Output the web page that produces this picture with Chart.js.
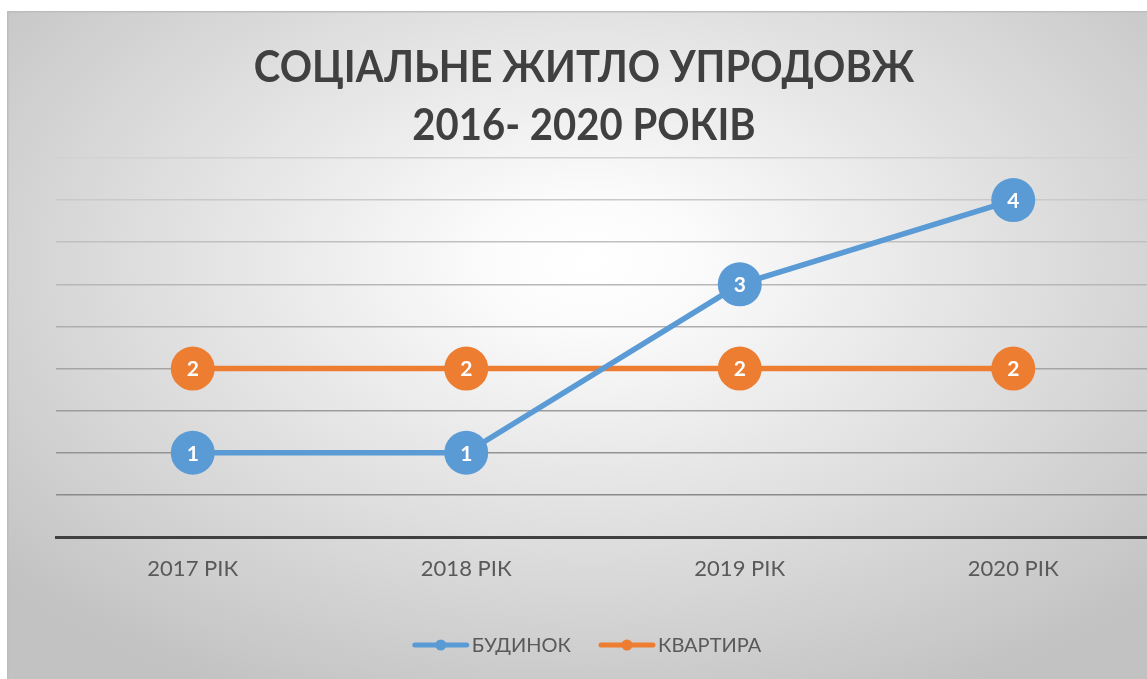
<!DOCTYPE html>
<html>
<head>
<meta charset="utf-8">
<script src="https://cdn.jsdelivr.net/npm/chart.js@4.4.0/dist/chart.umd.min.js"></script>
<style>
  html, body { margin: 0; padding: 0; background: #ffffff; overflow: hidden; width: 1147px; height: 679px; }
  #wrap { position: absolute; left: 7px; top: 11px; width: 1165px; height: 668px; }
  canvas { display: block; }
</style>
</head>
<body>
<div id="wrap"><canvas id="c" width="1165" height="668"></canvas></div>
<script>
const categories = ['2017 РІК', '2018 РІК', '2019 РІК', '2020 РІК'];
const housesValues = [1, 1, 3, 4];
const apartmentsValues = [2, 2, 2, 2];
const seriesNames = ['БУДИНОК', 'КВАРТИРА'];
const titleLines = ['СОЦІАЛЬНЕ ЖИТЛО УПРОДОВЖ', '2016- 2020 РОКІВ'];
const yMin = 0, yMax = 4.5, yStep = 0.5;

const BLUE = '#5B9BD5';
const ORANGE = '#ED7D31';
const FONT = 'Lato, "Open Sans", sans-serif';

const backgroundPlugin = {
  id: 'bg',
  beforeDraw(chart) {
    const ctx = chart.ctx, w = chart.width, h = chart.height;
    ctx.save();
    ctx.translate(583, 250);
    ctx.scale(1, 0.62);
    const g = ctx.createRadialGradient(0, 0, 0, 0, 0, 780);
    g.addColorStop(0, '#ffffff');
    g.addColorStop(0.12, '#fcfcfc');
    g.addColorStop(1, '#c2c2c2');
    ctx.fillStyle = g;
    ctx.fillRect(-700, -700, 1500, 1800);
    ctx.restore();
    ctx.save();
    ctx.strokeStyle = '#bdbdbd';
    ctx.lineWidth = 1.5;
    ctx.beginPath();
    ctx.moveTo(0.75, h);
    ctx.lineTo(0.75, 0.75);
    ctx.lineTo(w, 0.75);
    ctx.stroke();
    ctx.restore();
  }
};

const textPlugin = {
  id: 'texts',
  afterDatasetsDraw(chart) {
    const ctx = chart.ctx;
    ctx.save();
    ctx.textAlign = 'center';
    ctx.textBaseline = 'middle';
    ctx.fillStyle = '#ffffff';
    ctx.font = 'bold 21px ' + FONT;
    chart.data.datasets.forEach((ds, i) => {
      const meta = chart.getDatasetMeta(i);
      meta.data.forEach((pt, j) => {
        ctx.fillText(String(ds.data[j]), pt.x, pt.y + 1);
      });
    });
    ctx.restore();
  },
  afterDraw(chart) {
    const ctx = chart.ctx;
    ctx.save();
    // title
    ctx.fillStyle = '#404040';
    ctx.textAlign = 'center';
    ctx.textBaseline = 'middle';
    ctx.font = 'bold 44px ' + FONT;
    ctx.save();
    ctx.translate(577, 0);
    ctx.scale(0.91, 1);
    ctx.fillText(titleLines[0], 0, 57);
    ctx.fillText(titleLines[1], 0, 115);
    ctx.restore();
    // legend
    ctx.font = '20px ' + FONT;
    ctx.textAlign = 'left';
    const lineW = 56, gapText = 3, gapItems = 28;
    const colors = [BLUE, ORANGE];
    const widths = seriesNames.map(n => ctx.measureText(n).width);
    const total = widths.reduce((a, b) => a + b, 0) + seriesNames.length * (lineW + gapText) + gapItems * (seriesNames.length - 1);
    let x = 580 - total / 2;
    const y = 634;
    seriesNames.forEach((n, i) => {
      ctx.strokeStyle = colors[i];
      ctx.lineWidth = 5;
      ctx.lineCap = 'round';
      ctx.beginPath();
      ctx.moveTo(x + 2, y);
      ctx.lineTo(x + lineW - 2, y);
      ctx.stroke();
      ctx.fillStyle = colors[i];
      ctx.beginPath();
      ctx.arc(x + lineW / 2, y, 5.5, 0, Math.PI * 2);
      ctx.fill();
      ctx.fillStyle = '#595959';
      ctx.fillText(n, x + lineW + gapText, y + 1);
      x += lineW + gapText + widths[i] + gapItems;
    });
    ctx.restore();
  }
};

new Chart(document.getElementById('c'), {
  type: 'line',
  data: {
    labels: categories,
    datasets: [
      { label: seriesNames[0], data: housesValues, borderColor: BLUE, backgroundColor: BLUE,
        pointBackgroundColor: BLUE, pointBorderColor: BLUE, borderWidth: 5.5, pointRadius: 22,
        pointHoverRadius: 22, pointBorderWidth: 0, tension: 0 },
      { label: seriesNames[1], data: apartmentsValues, borderColor: ORANGE, backgroundColor: ORANGE,
        pointBackgroundColor: ORANGE, pointBorderColor: ORANGE, borderWidth: 5.5, pointRadius: 22,
        pointHoverRadius: 22, pointBorderWidth: 0, tension: 0 }
    ]
  },
  options: {
    responsive: false,
    animation: false,
    events: [],
    layout: { padding: { left: 49, right: 12, top: 147, bottom: 82 } },
    plugins: { legend: { display: false }, title: { display: false }, tooltip: { enabled: false } },
    scales: {
      x: {
        type: 'category',
        offset: true,
        grid: { display: false, drawTicks: false },
        border: { display: true, color: '#404040', width: 3 },
        ticks: { color: '#595959', font: { family: FONT, size: 22 }, padding: 19 },
        afterFit(scale) { scale.height = 60; }
      },
      y: {
        min: yMin, max: yMax,
        ticks: { display: false, stepSize: yStep },
        border: { display: false },
        grid: {
          drawTicks: false,
          lineWidth: 1.5,
          color(ctx) {
            const i = ctx.index;
            if (i === 0) return 'rgba(0,0,0,0)';
            const v = Math.round(0x8a + (i - 1) * (0xd2 - 0x8a) / 8);
            return 'rgb(' + v + ',' + v + ',' + v + ')';
          }
        },
        afterFit(scale) { scale.width = 0; }
      }
    }
  },
  plugins: [backgroundPlugin, textPlugin]
});
</script>
</body>
</html>
